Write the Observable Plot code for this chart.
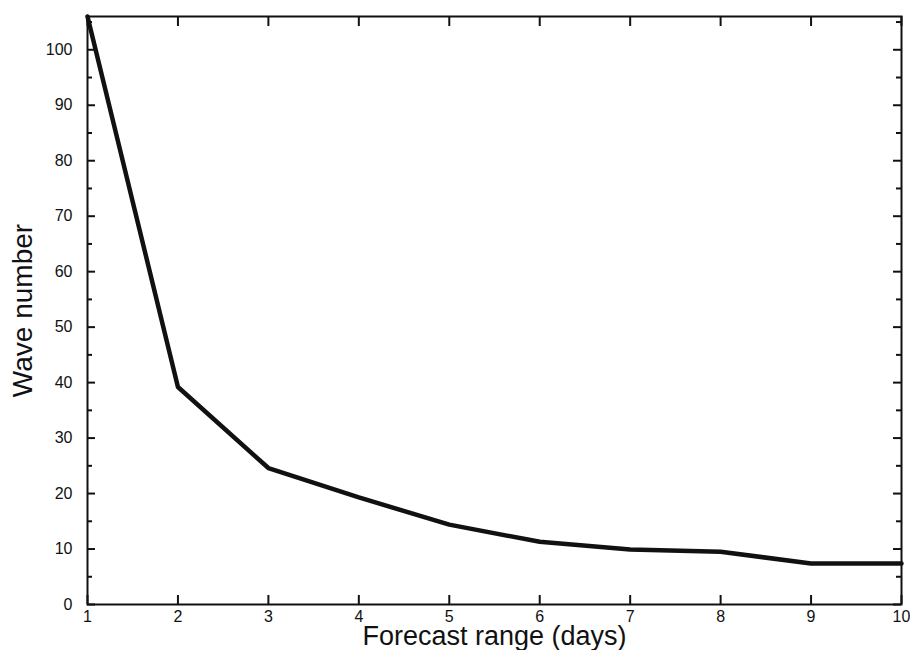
<!DOCTYPE html>
<html>
<head>
<meta charset="utf-8">
<script src="https://cdn.jsdelivr.net/npm/d3@7"></script>
<script src="https://cdn.jsdelivr.net/npm/@observablehq/plot@0.6"></script>
<style>
  html, body { margin: 0; padding: 0; background: #fff; }
</style>
</head>
<body>
<div id="chart"></div>
<script>
// Data
const forecastDays = [1, 2, 3, 4, 5, 6, 7, 8, 9, 10];
const waveNumber   = [106, 39.2, 24.6, 19.3, 14.4, 11.3, 9.9, 9.5, 7.4, 7.4];

const xTicks = [1, 2, 3, 4, 5, 6, 7, 8, 9, 10];
const yTicks = [0, 10, 20, 30, 40, 50, 60, 70, 80, 90, 100];
const yMinorTicks = [5, 15, 25, 35, 45, 55, 65, 75, 85, 95, 105];
const xLabel = "Forecast range (days)";
const yLabel = "Wave number";

const data = forecastDays.map((d, i) => ({day: d, wave: waveNumber[i]}));

const W = 910, H = 650, ML = 87, MR = 9, MT = 16, MB = 46;
const FW = W - ML - MR, FH = H - MT - MB;

const chart = Plot.plot({
  width: W,
  height: H,
  marginLeft: ML,
  marginRight: MR,
  marginTop: MT,
  marginBottom: MB,
  style: {fontFamily: "'Liberation Sans', Arial, sans-serif", fontSize: "16px", color: "#111", background: "#fff"},
  x: {domain: [1, 10]},
  y: {domain: [0, 106]},
  marks: [
    Plot.frame({stroke: "#111", strokeWidth: 2}),
    // tick labels
    Plot.axisX({ticks: xTicks, tickSize: 0, tickPadding: 6, tickFormat: d => String(d), label: null, fontSize: 16}),
    Plot.axisY({ticks: yTicks, tickSize: 0, tickPadding: 15, tickFormat: d => String(d), label: null, fontSize: 16}),
    // inward tick marks
    Plot.tickX(xTicks, {x: d => d, insetTop: FH - 9, stroke: "#111", strokeWidth: 2}),
    Plot.tickX(xTicks, {x: d => d, insetBottom: FH - 10, stroke: "#111", strokeWidth: 2}),
    Plot.tickY(yTicks, {y: d => d, insetRight: FW - 8, stroke: "#111", strokeWidth: 2}),
    Plot.tickY(yTicks, {y: d => d, insetLeft: FW - 8, stroke: "#111", strokeWidth: 2}),
    Plot.tickY(yMinorTicks, {y: d => d, insetRight: FW - 5, stroke: "#111", strokeWidth: 2}),
    Plot.tickY(yMinorTicks, {y: d => d, insetLeft: FW - 5, stroke: "#111", strokeWidth: 2}),
    Plot.line(data, {x: "day", y: "wave", stroke: "#111", strokeWidth: 4.5, strokeLinejoin: "round"}),
    // axis titles
    Plot.text([xLabel], {frameAnchor: "bottom", lineAnchor: "middle", dy: 32, fontSize: 27, fill: "#111"}),
    Plot.text([yLabel], {frameAnchor: "left", textAnchor: "middle", lineAnchor: "middle", dx: -64, rotate: -90, fontSize: 28, fill: "#111"})
  ]
});

document.getElementById("chart").append(chart);
</script>
</body>
</html>
